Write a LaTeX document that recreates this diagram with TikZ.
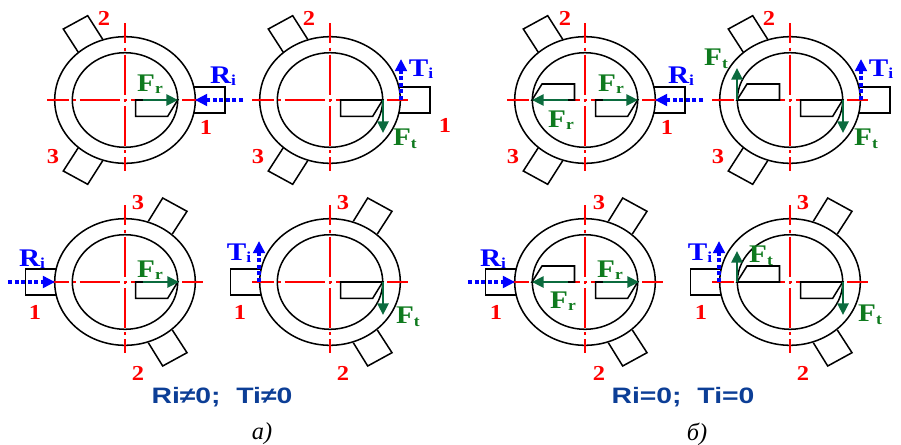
\documentclass[tikz,border=0pt]{standalone}
\usepackage{fontspec}
\setmainfont{Liberation Serif}
\newfontfamily\capfont{Liberation Sans}
\usetikzlibrary{arrows.meta}
\definecolor{frgreen}{HTML}{0B6B3E}
\definecolor{txgreen}{HTML}{0F7A1E}
\definecolor{capblue}{HTML}{0C3E96}
\tikzset{
  x=0.9857pt,y=-0.9857pt,
  part/.style={draw=black,line width=1.5pt,line join=miter},
  axish/.style={draw=red,line width=1.1pt,dash pattern=on 39.5pt off 4pt on 3pt off 4pt,dash phase=18.3pt},
  axisv/.style={draw=red,line width=1.1pt,dash pattern=on 39.5pt off 4pt on 3pt off 4pt,dash phase=19.3pt},
  force/.style={draw=frgreen,line width=2.5pt,-{Triangle[length=11.5pt,width=11pt]}},
  load/.style={draw=blue,line width=3pt,dash pattern=on 4pt off 2.5pt,-{Triangle[length=12pt,width=11.5pt,fill=blue,sep=0pt]}},
  num/.style={text=red,font=\bfseries\fontsize{21}{21}\selectfont,inner sep=0pt},
  flab/.style={text=txgreen,font=\bfseries\fontsize{25}{25}\selectfont,inner sep=0pt},
  blab/.style={text=blue,font=\bfseries\fontsize{25}{25}\selectfont,inner sep=0pt},
  capt/.style={text=capblue,font=\capfont\bfseries\fontsize{22}{22}\selectfont,inner sep=0pt},
  sub/.style={text=black,font=\itshape\fontsize{24}{24}\selectfont,inner sep=0pt}
}
\newcommand{\Sb}[1]{\raisebox{-2.5pt}{\fontsize{15}{15}\selectfont #1}}
\newcommand{\Wd}[1]{\scalebox{1.15}[1]{#1}}
\newcommand{\Cp}[1]{\scalebox{1.27}[1]{#1}}
\newcommand{\rotorA}[2]{%
 \begin{scope}[shift={(#1,#2)}]
  \draw[part] (69,-13) -- (100,-13) -- (100,13) -- (69,13);
  \draw[part] (-22.3,-60.7) -- (-37.3,-84.3) -- (-61.7,-71) -- (-46.7,-47.7);
  \draw[part] (-22.3,60.7) -- (-37.3,84.3) -- (-61.7,71) -- (-46.7,47.7);
  \draw[part] (0,0) ellipse [x radius=70.3,y radius=63.3];
  \draw[part] (0,0) ellipse [x radius=52.7,y radius=47.3];
  \draw[axish] (-78,0) -- (78,0);
  \draw[axisv] (0,-77) -- (0,71);
 \end{scope}}
\newcommand{\rotorB}[2]{%
 \begin{scope}[shift={(#1,#2)}]
  \draw[part] (-69,-13) -- (-99.5,-13) -- (-99.5,13) -- (-69,13);
  \draw[part] (23.3,-60.7) -- (37.7,-84) -- (62,-70.7) -- (47.3,-48);
  \draw[part] (23.3,60.7) -- (37.7,84) -- (62,70.7) -- (47.3,48);
  \draw[part] (0,0) ellipse [x radius=70.3,y radius=63.3];
  \draw[part] (0,0) ellipse [x radius=52.7,y radius=47.3];
  \draw[axish] (-78,0) -- (78,0);
  \draw[axisv] (0,-77) -- (0,71);
 \end{scope}}
\newcommand{\insR}[2]{\draw[part,shift={(#1,#2)}] (10.7,0) -- (52.7,0) -- (42.7,16.3) -- (10.7,16.3) -- cycle;}
\newcommand{\insL}[2]{\draw[part,shift={(#1,#2)}] (-53,0) -- (-43,-16) -- (-10.5,-16) -- (-10.5,0) -- cycle;}
\begin{document}
\begin{tikzpicture}
\useasboundingbox (0,0) rectangle (901,444);
\rotorA{125}{100}\rotorA{330}{100}\rotorA{585}{100}\rotorA{790}{100}
\rotorB{125}{282}\rotorB{330}{282}\rotorB{585}{282}\rotorB{790}{282}
\insR{125}{100}\insR{330}{100}\insR{585}{100}\insR{790}{100}
\insR{125}{282}\insR{330}{282}\insR{585}{282}\insR{790}{282}
\insL{585}{100}\insL{790}{100}\insL{585}{282}\insL{790}{282}
\draw[force] (143,100) -- (178,100);
\draw[force] (603,100) -- (638,100);
\draw[force] (568,100) -- (532,100);
\draw[force] (143,282) -- (179,282);
\draw[force] (603,282) -- (639,282);
\draw[force] (568,282) -- (532,282);
\draw[force] (383,100) -- (383,133);
\draw[force] (843,100) -- (843,133);
\draw[force] (737,100) -- (737,68);
\draw[force] (383,282) -- (383,315);
\draw[force] (843,282) -- (843,315);
\draw[force] (737,282) -- (737,251);
\draw[load] (243,100) -- (195,100);
\draw[load] (703,100) -- (655,100);
\draw[load] (8,282) -- (55,282);
\draw[load] (468,282) -- (515,282);
\draw[load] (401,100) -- (401,59);
\draw[load] (861,100) -- (861,59);
\draw[load] (259,282) -- (259,241);
\draw[load] (719,282) -- (719,241);
\node[num] (n1) at (104,18) {\Wd{2}};
\node[num] (n2) at (206,127) {\Wd{1}};
\node[num] (n3) at (53,157) {\Wd{3}};
\node[num] (n4) at (309,18) {\Wd{2}};
\node[num] (n5) at (445,125) {\Wd{1}};
\node[num] (n6) at (258,157) {\Wd{3}};
\node[num] (n7) at (565,18) {\Wd{2}};
\node[num] (n8) at (667,127) {\Wd{1}};
\node[num] (n9) at (513,157) {\Wd{3}};
\node[num] (n10) at (769,18) {\Wd{2}};
\node[num] (n11) at (718,157) {\Wd{3}};
\node[num] (n12) at (138,203) {\Wd{3}};
\node[num] (n13) at (35,312) {\Wd{1}};
\node[num] (n14) at (138,373) {\Wd{2}};
\node[num] (n15) at (343,203) {\Wd{3}};
\node[num] (n16) at (240,312) {\Wd{1}};
\node[num] (n17) at (343,373) {\Wd{2}};
\node[num] (n18) at (599,203) {\Wd{3}};
\node[num] (n19) at (496,312) {\Wd{1}};
\node[num] (n20) at (599,373) {\Wd{2}};
\node[num] (n21) at (803,203) {\Wd{3}};
\node[num] (n22) at (701,312) {\Wd{1}};
\node[num] (n23) at (803,373) {\Wd{2}};
\node[flab] (f1) at (150,84) {\Wd{F\Sb{r}}};
\node[flab] (f2) at (611,84) {\Wd{F\Sb{r}}};
\node[flab] (f3) at (561,120) {\Wd{F\Sb{r}}};
\node[flab] (f4) at (150,270) {\Wd{F\Sb{r}}};
\node[flab] (f5) at (610,270) {\Wd{F\Sb{r}}};
\node[flab] (f6) at (563,301) {\Wd{F\Sb{r}}};
\node[flab] (f7) at (405,139) {\Wd{F\Sb{t}}};
\node[flab] (f8) at (866,139) {\Wd{F\Sb{t}}};
\node[flab] (f9) at (716,59) {\Wd{F\Sb{t}}};
\node[flab] (f10) at (408,317) {\Wd{F\Sb{t}}};
\node[flab] (f11) at (870,315) {\Wd{F\Sb{t}}};
\node[flab] (f12) at (761,256) {\Wd{F\Sb{t}}};
\node[blab] (b1) at (223,76) {\Wd{R\Sb{i}}};
\node[blab] (b2) at (681,76) {\Wd{R\Sb{i}}};
\node[blab] (b3) at (32,259) {\Wd{R\Sb{i}}};
\node[blab] (b4) at (493,259) {\Wd{R\Sb{i}}};
\node[blab] (b5) at (421,69) {\Wd{T\Sb{i}}};
\node[blab] (b6) at (881,69) {\Wd{T\Sb{i}}};
\node[blab] (b7) at (239,253) {\Wd{T\Sb{i}}};
\node[blab] (b8) at (700,253) {\Wd{T\Sb{i}}};
\node[capt] (c1) at (222,397) {\Cp{Ri≠0;\ \ Ti≠0}};
\node[capt] (c2) at (683,397) {\Cp{Ri=0;\ \ Ti=0}};
\node[sub] (s1) at (262,434) {а)};
\node[sub] (s2) at (697,434) {б)};
\end{tikzpicture}
\end{document}
